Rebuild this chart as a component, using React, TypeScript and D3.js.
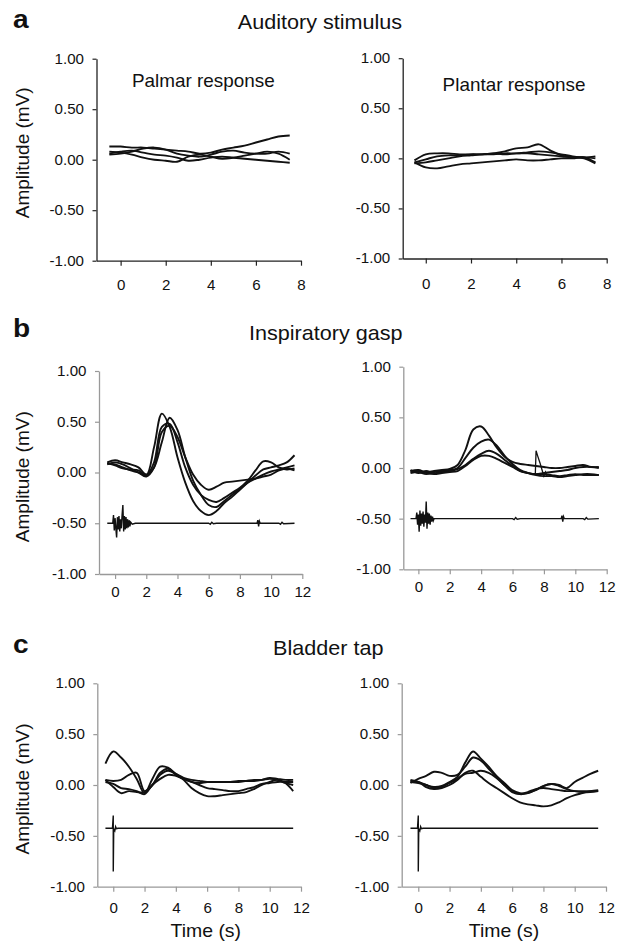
import React, { useEffect, useRef } from 'react';
import * as d3 from 'd3';

// time grids (s)
const timeShort = [-0.5, 0, 0.5, 1, 1.5, 2, 2.5, 3, 3.5, 4, 4.5, 5, 5.5, 6, 6.5, 7, 7.5];
const timeLong = [-0.5, 0, 0.5, 1, 1.5, 2, 2.5, 3, 3.5, 4, 4.5, 5, 5.5, 6, 6.5, 7, 7.5, 8, 8.5, 9, 9.5, 10, 10.5, 11, 11.5];

const xTicksShort = [0, 2, 4, 6, 8];
const xTicksLong = [0, 2, 4, 6, 8, 10, 12];
const yTicks = [-1, -0.5, 0, 0.5, 1];

// a: auditory stimulus (mV)
const auditoryPalmar = [
  [0.13, 0.13, 0.12, 0.12, 0.11, 0.1, 0.09, 0.08, 0.06, 0.07, 0.1, 0.12, 0.14, 0.17, 0.2, 0.23, 0.24],
  [0.05, 0.06, 0.08, 0.11, 0.12, 0.1, 0.06, 0.04, 0.03, 0.05, 0.08, 0.09, 0.07, 0.06, 0.06, 0.08, 0.06],
  [0.08, 0.07, 0.05, 0.02, 0.0, -0.01, -0.02, 0.03, 0.05, 0.03, 0.01, 0.02, 0.04, 0.06, 0.08, 0.06, 0.0],
  [0.06, 0.08, 0.09, 0.07, 0.05, 0.04, 0.02, -0.01, 0.0, 0.02, 0.03, 0.02, 0.01, 0.0, -0.01, -0.02, -0.03],
];
const auditoryPlantar = [
  [-0.02, 0.04, 0.05, 0.05, 0.04, 0.04, 0.04, 0.05, 0.07, 0.1, 0.11, 0.14, 0.08, 0.03, 0.01, 0.01, 0.0],
  [-0.05, -0.04, -0.02, 0.0, 0.02, 0.03, 0.04, 0.04, 0.05, 0.05, 0.06, 0.07, 0.06, 0.04, 0.02, 0.01, 0.02],
  [-0.04, -0.09, -0.1, -0.08, -0.06, -0.05, -0.04, -0.03, -0.02, -0.01, -0.02, -0.02, -0.01, 0.0, 0.0, 0.01, -0.04],
  [-0.04, -0.01, 0.02, 0.03, 0.03, 0.04, 0.04, 0.05, 0.04, 0.05, 0.05, 0.04, 0.03, 0.02, 0.01, 0.0, -0.05],
];

// b: inspiratory gasp (mV)
const gaspPalmar = [
  [0.09, 0.08, 0.05, 0.02, 0.0, -0.03, 0.25, 0.58, 0.45, 0.15, -0.1, -0.28, -0.38, -0.42, -0.38, -0.3, -0.24, -0.17, -0.1, -0.03, 0.03, 0.05, 0.07, 0.1, 0.17],
  [0.1, 0.12, 0.1, 0.08, 0.05, -0.02, 0.05, 0.3, 0.54, 0.42, 0.15, -0.08, -0.22, -0.32, -0.34, -0.28, -0.22, -0.16, -0.1, -0.06, -0.02, 0.01, 0.03, 0.05, 0.07],
  [0.09, 0.07, 0.04, 0.03, 0.02, -0.03, 0.1, 0.45, 0.48, 0.3, 0.05, -0.12, -0.22, -0.27, -0.29, -0.25, -0.2, -0.15, -0.08, 0.02, 0.11, 0.1, 0.05, 0.03, 0.04],
  [0.08, 0.1, 0.08, 0.04, 0.0, -0.04, 0.05, 0.4, 0.46, 0.35, 0.15, -0.02, -0.12, -0.17, -0.14, -0.1, -0.09, -0.08, -0.07, -0.06, -0.04, -0.02, 0.02, 0.04, 0.02],
];
const gaspPlantar = [
  [-0.03, -0.02, -0.04, -0.03, -0.02, -0.01, 0.03, 0.18, 0.38, 0.41, 0.32, 0.2, 0.11, 0.06, 0.04, 0.03, 0.02, 0.01, 0.0, 0.0, 0.01, 0.02, 0.03, 0.01, 0.01],
  [-0.05, -0.04, -0.06, -0.04, -0.03, -0.02, 0.0, 0.1, 0.2, 0.26, 0.28, 0.22, 0.12, 0.04, -0.02, -0.05, -0.07, -0.08, -0.08, -0.09, -0.08, -0.07, -0.06, -0.06, -0.07],
  [-0.02, -0.05, -0.03, -0.05, -0.04, -0.03, -0.01, 0.03, 0.09, 0.14, 0.17, 0.14, 0.08, 0.02, -0.03, -0.05, -0.06, -0.06, -0.07, -0.08, -0.07, -0.06, -0.07, -0.07, -0.07],
  [-0.04, -0.03, -0.05, -0.06, -0.05, -0.04, -0.03, 0.02, 0.08, 0.12, 0.12, 0.09, 0.05, 0.01, -0.03, -0.05, -0.06, -0.05, -0.04, -0.03, -0.02, 0.0, 0.01, 0.01, 0.0],
];
// movement artefact on one plantar trace
const gaspArtefactTime = [7.45, 7.5, 7.6, 7.75, 7.9, 8.0, 8.1, 8.2];
const gaspArtefact = [-0.07, 0.17, 0.12, 0.05, -0.03, -0.08, -0.04, -0.08];

// stimulus marker trace (offset to -0.5 mV)
const stimGaspTime = [-0.5, -0.15, -0.1, -0.05, 0, 0.05, 0.1, 0.15, 0.2, 0.25, 0.3, 0.35, 0.4, 0.45, 0.5, 0.55, 0.6, 0.65, 0.7, 0.75, 0.8, 0.85, 0.9, 0.95, 1.0, 1.1, 1.3, 6.0, 6.1, 6.2, 6.3, 6.5, 9.1, 9.15, 9.2, 9.25, 9.3, 10.5, 10.6, 10.7, 10.8, 11.5];
const stimGaspPalmar = [-0.5, -0.5, -0.42, -0.57, -0.45, -0.55, -0.64, -0.44, -0.56, -0.43, -0.58, -0.46, -0.55, -0.42, -0.32, -0.58, -0.43, -0.56, -0.44, -0.55, -0.46, -0.54, -0.47, -0.53, -0.49, -0.51, -0.5, -0.5, -0.51, -0.49, -0.505, -0.5, -0.5, -0.47, -0.53, -0.48, -0.5, -0.5, -0.51, -0.49, -0.505, -0.5];
const stimGaspPlantar = [-0.5, -0.5, -0.44, -0.56, -0.46, -0.63, -0.42, -0.57, -0.45, -0.55, -0.43, -0.58, -0.46, -0.54, -0.33, -0.6, -0.44, -0.55, -0.45, -0.56, -0.47, -0.53, -0.48, -0.52, -0.5, -0.5, -0.5, -0.5, -0.51, -0.49, -0.505, -0.5, -0.5, -0.47, -0.53, -0.48, -0.5, -0.5, -0.51, -0.49, -0.505, -0.5];

// c: bladder tap (mV)
const tapPalmar = [
  [0.21, 0.33, 0.27, 0.18, 0.06, -0.08, 0.06, 0.18, 0.17, 0.11, 0.05, -0.03, -0.08, -0.11, -0.11, -0.1, -0.09, -0.08, -0.07, -0.04, 0.0, 0.03, 0.05, 0.02, -0.06],
  [0.05, 0.04, 0.05, 0.1, 0.12, -0.06, 0.0, 0.1, 0.14, 0.11, 0.07, 0.05, 0.04, 0.03, 0.03, 0.03, 0.03, 0.04, 0.04, 0.04, 0.05, 0.07, 0.06, 0.05, 0.05],
  [0.03, 0.01, -0.03, -0.04, -0.06, -0.09, 0.0, 0.06, 0.1, 0.09, 0.06, 0.03, 0.0, -0.03, -0.04, -0.05, -0.06, -0.06, -0.04, -0.02, 0.01, 0.02, 0.03, 0.03, 0.03],
  [0.05, -0.02, -0.08, -0.06, -0.07, -0.07, 0.0, 0.12, 0.16, 0.1, 0.06, 0.03, 0.02, 0.03, 0.03, 0.03, 0.03, 0.03, 0.04, 0.05, 0.05, 0.06, 0.05, 0.02, 0.0],
];
const tapPlantar = [
  [0.03, 0.02, 0.0, -0.02, -0.01, 0.03, 0.08, 0.22, 0.33, 0.26, 0.18, 0.09, 0.02, -0.05, -0.08, -0.08, -0.05, -0.01, 0.01, 0.0, -0.03, 0.03, 0.07, 0.11, 0.14],
  [0.02, 0.06, 0.09, 0.13, 0.12, 0.09, 0.1, 0.18, 0.27, 0.24, 0.16, 0.08, 0.0, -0.07, -0.09, -0.07, -0.04, -0.03, -0.04, -0.05, -0.06, -0.06, -0.06, -0.06, -0.06],
  [0.04, 0.03, -0.02, -0.04, -0.03, 0.0, 0.05, 0.12, 0.14, 0.08, 0.02, -0.03, -0.08, -0.13, -0.17, -0.19, -0.2, -0.21, -0.2, -0.17, -0.13, -0.1, -0.08, -0.06, -0.05],
  [0.05, 0.03, 0.0, -0.03, -0.02, 0.02, 0.06, 0.11, 0.12, 0.14, 0.12, 0.07, 0.0, -0.06, -0.09, -0.08, -0.05, -0.01, 0.01, -0.01, -0.04, -0.06, -0.07, -0.07, -0.06],
];
const stimTapTime = [-0.5, -0.05, 0, 0, 0.03, 0.1, 0.15, 0.2, 0.3, 11.5];
const stimTap = [-0.425, -0.425, -0.3, -0.85, -0.43, -0.45, -0.41, -0.43, -0.425, -0.425];

const FONT = '"Liberation Sans", Arial, sans-serif';
const STRETCH = 1.08; // the source figure is slightly wider than tall

const W = 618;
const H = 947;

// box = [left, right, top, bottom] of the axis frame
const panels = [
  { box: [96.5, 301, 58.7, 260.7], xMin: -1.07, xMax: 8, xTicks: xTicksShort, time: timeShort, traces: auditoryPalmar, axis: '#222', labelDy: 29.5 },
  { box: [402.7, 606.7, 58.2, 258.5], xMin: -1.02, xMax: 8, xTicks: xTicksShort, time: timeShort, traces: auditoryPlantar, axis: '#222', labelDy: 30 },
  { box: [99, 302.3, 371, 574], xMin: -1.03, xMax: 12, xTicks: xTicksLong, time: timeLong, traces: gaspPalmar, axis: '#999', labelDy: 23,
    stim: { t: stimGaspTime, v: stimGaspPalmar } },
  { box: [403.3, 606.7, 366.7, 569.3], xMin: -0.96, xMax: 12, xTicks: xTicksLong, time: timeLong, traces: gaspPlantar, axis: '#999', labelDy: 23,
    stim: { t: stimGaspTime, v: stimGaspPlantar }, extra: { t: gaspArtefactTime, v: gaspArtefact } },
  { box: [97.3, 301, 683.3, 886.7], xMin: -1.02, xMax: 12, xTicks: xTicksLong, time: timeLong, traces: tapPalmar, axis: '#999', labelDy: 26,
    stim: { t: stimTapTime, v: stimTap } },
  { box: [401.7, 606, 683.3, 886.7], xMin: -1.06, xMax: 12, xTicks: xTicksLong, time: timeLong, traces: tapPlantar, axis: '#999', labelDy: 26,
    stim: { t: stimTapTime, v: stimTap } },
];

const App = () => {
  const ref = useRef<SVGSVGElement>(null);

  useEffect(() => {
    const svg = d3.select(ref.current);
    svg.selectAll('*').remove();
    svg.append('rect').attr('width', W).attr('height', H).attr('fill', '#fff');

    const text = (x: number, y: number, s: string, size: number, anchor = 'middle', weight = 'normal') =>
      svg
        .append('text')
        .attr('transform', `translate(${x},${y}) scale(${STRETCH},1)`)
        .attr('text-anchor', anchor)
        .attr('font-family', FONT)
        .attr('font-size', size)
        .attr('font-weight', weight)
        .attr('fill', '#111')
        .text(s);

    panels.forEach((p: any) => {
      const [l, r, t, b] = p.box;
      const x = d3.scaleLinear().domain([p.xMin, p.xMax]).range([l, r]);
      const y = d3.scaleLinear().domain([-1, 1]).range([b, t]);
      const g = svg.append('g');

      const ya = g
        .append('g')
        .attr('transform', `translate(${l},0)`)
        .call(d3.axisLeft(y).tickValues(yTicks).tickSize(4).tickSizeOuter(0).tickFormat((v: any) => v.toFixed(2)));
      ya.selectAll('text').attr('x', 0).attr('transform', `translate(-12.5,0) scale(${STRETCH},1)`);

      const xa = g
        .append('g')
        .attr('transform', `translate(0,${b})`)
        .call(d3.axisBottom(x).tickValues(p.xTicks).tickSize(5).tickSizeOuter(0).tickFormat(d3.format('d')));
      xa.selectAll('text').attr('y', 0).attr('dy', 0).attr('transform', `translate(0,${p.labelDy}) scale(${STRETCH},1)`);

      [ya, xa].forEach((a) => {
        a.select('.domain').attr('stroke', p.axis).attr('stroke-width', 1.3);
        a.selectAll('.tick line').attr('stroke', p.axis).attr('stroke-width', 1.2);
        a.selectAll('text').attr('font-family', FONT).attr('font-size', 14).attr('fill', '#111');
      });

      const line = d3
        .line<number>()
        .x((_, i) => x(p.time[i]))
        .y((d) => y(d))
        .curve(d3.curveCatmullRom.alpha(0.5));

      p.traces.forEach((tr: number[]) => {
        g.append('path').attr('d', line(tr)).attr('fill', 'none').attr('stroke', '#111').attr('stroke-width', 1.9);
      });

      if (p.extra) {
        const ex = d3.line<number>().x((_, i) => x(p.extra.t[i])).y((d) => y(d));
        g.append('path').attr('d', ex(p.extra.v)).attr('fill', 'none').attr('stroke', '#111').attr('stroke-width', 1.3);
      }

      if (p.stim) {
        const sl = d3.line<number>().x((_, i) => x(p.stim.t[i])).y((d) => y(d));
        g.append('path').attr('d', sl(p.stim.v)).attr('fill', 'none').attr('stroke', '#111').attr('stroke-width', 1.4);
      }
    });

    // panel letters and titles
    text(13, 28.3, 'a', 26, 'start', 'bold');
    text(13, 336.7, 'b', 26, 'start', 'bold');
    text(13, 653.3, 'c', 26, 'start', 'bold');
    text(320, 29.3, 'Auditory stimulus', 20);
    text(325.8, 340, 'Inspiratory gasp', 20);
    text(328.3, 655, 'Bladder tap', 20);

    text(203.3, 87.3, 'Palmar response', 17.5);
    text(514, 90.7, 'Plantar response', 17.5);

    text(205.8, 936.7, 'Time (s)', 18);
    text(504, 936.7, 'Time (s)', 18);

    [152.8, 476.7, 789].forEach((cy) => {
      svg
        .append('text')
        .attr('transform', `translate(29,${cy}) rotate(-90)`)
        .attr('text-anchor', 'middle')
        .attr('font-family', FONT)
        .attr('font-size', 19)
        .attr('fill', '#111')
        .text('Amplitude (mV)');
    });
  }, []);

  return <svg ref={ref} width={W} height={H} style={{ position: 'absolute', left: 0, top: 0 }} />;
};

export default App;
